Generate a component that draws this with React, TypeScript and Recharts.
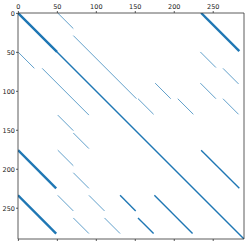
import { ComposedChart, Line, XAxis, YAxis } from "recharts";

const N = 290;
const xTicks = [0, 50, 100, 150, 200, 250];
const yTicks = [0, 50, 100, 150, 200, 250];

// each run is [first row, first col, number of entries] along a diagonal
const thickRuns = [
  [0, 0, 50],
  [0, 235, 49],
  [176, 0, 49],
  [234, 0, 49],
];

const mediumRuns = [
  [0, 0, 290],
  [176, 235, 49],
  [234, 131, 20],
  [263, 154, 20],
  [234, 175, 49],
];

const thinRuns = [
  [0, 51, 20],
  [29, 71, 81],
  [50, 0, 21],
  [71, 31, 60],
  [131, 51, 20],
  [154, 71, 20],
  [50, 234, 20],
  [71, 263, 20],
  [90, 176, 20],
  [110, 154, 20],
  [110, 205, 20],
  [90, 234, 20],
  [110, 263, 20],
  [176, 51, 20],
  [205, 71, 20],
  [234, 51, 20],
  [263, 71, 20],
  [234, 91, 20],
  [263, 111, 20],
];

const BLUE = "#1f77b4";
const domain: [number, number] = [-0.5, N - 0.5];
const tickFont = { fontSize: 6.5, fill: "#222", fontFamily: "DejaVu Sans" };

function runPoints(run: number[]) {
  const [r, c, n] = run;
  return [
    { x: c - 0.5, y: r - 0.5 },
    { x: c + n - 0.5, y: r + n - 0.5 },
  ];
}

function renderRuns(runs: number[][], width: number, opacity: number, key: string) {
  return runs.map((run, i) => (
    <Line
      key={`${key}-${i}`}
      data={runPoints(run)}
      dataKey="y"
      stroke={BLUE}
      strokeWidth={width}
      strokeOpacity={opacity}
      strokeLinecap="butt"
      dot={false}
      activeDot={false}
      isAnimationActive={false}
    />
  ));
}

export default function App() {
  return (
    <div
      style={{
        position: "absolute",
        left: 0,
        top: 0,
        width: 248,
        height: 244,
        background: "#fff",
      }}
    >
      <ComposedChart
        width={248}
        height={244}
        margin={{ top: 0, right: 0, bottom: 0, left: 0 }}
      >
        <XAxis
          dataKey="x"
          type="number"
          orientation="top"
          domain={domain}
          allowDataOverflow
          ticks={xTicks}
          height={13}
          tickSize={2}
          tickMargin={2}
          tick={tickFont}
          stroke="#333"
          strokeWidth={0.8}
        />
        <XAxis
          xAxisId="b"
          dataKey="x"
          type="number"
          orientation="bottom"
          domain={domain}
          allowDataOverflow
          ticks={xTicks}
          height={5}
          tickSize={2}
          tickFormatter={() => ""}
          stroke="#333"
          strokeWidth={0.8}
        />
        <YAxis
          type="number"
          reversed
          domain={domain}
          allowDataOverflow
          ticks={yTicks}
          width={18}
          tickSize={2}
          tickMargin={1}
          tick={tickFont}
          stroke="#333"
          strokeWidth={0.8}
        />
        <YAxis
          yAxisId="r"
          type="number"
          orientation="right"
          reversed
          domain={domain}
          allowDataOverflow
          width={4}
          tick={false}
          tickLine={false}
          stroke="#333"
          strokeWidth={0.8}
        />
        {renderRuns(thinRuns, 1, 0.7, "thin")}
        {renderRuns(mediumRuns, 1.4, 1, "medium")}
        {renderRuns(thickRuns, 2.4, 1, "thick")}
      </ComposedChart>
    </div>
  );
}
